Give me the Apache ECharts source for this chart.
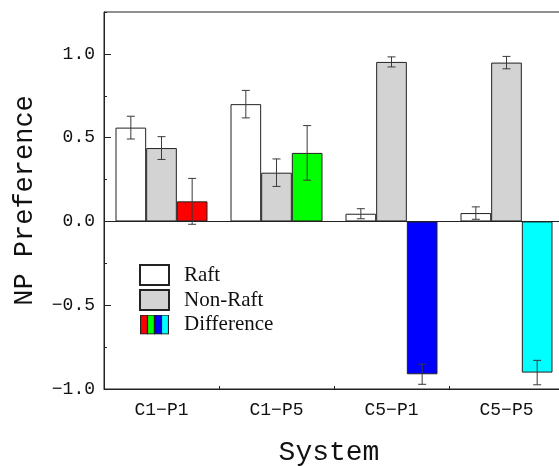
<!DOCTYPE html>
<html>
<head>
<meta charset="utf-8">
<script src="https://cdn.jsdelivr.net/npm/echarts@6/dist/echarts.min.js"></script>
<style>html,body{margin:0;padding:0;background:#fff}#c{width:559px;height:466px}</style>
</head>
<body>
<div id="c"></div>
<script>
// ---- data ----
const categories = ['C1\u2212P1', 'C1\u2212P5', 'C5\u2212P1', 'C5\u2212P5'];
const raftValues = [0.56, 0.70, 0.046, 0.05];
const raftErrors = [0.068, 0.082, 0.03, 0.037];
const nonRaftValues = [0.438, 0.291, 0.952, 0.948];
const nonRaftErrors = [0.068, 0.082, 0.03, 0.037];
const diffValues = [0.12, 0.409, -0.912, -0.902];
const diffErrors = [0.137, 0.163, 0.06, 0.073];
const seriesNames = ['Raft', 'Non-Raft', 'Difference'];
const yTickValues = [-1.0, -0.5, 0.0, 0.5, 1.0];

// ---- styles ----
const diffColors = ['#ff0000', '#00ff00', '#0000ff', '#00ffff'];
const axisColor = '#222';
const monoFont = 'Liberation Mono';

const diffIconSvg = "<svg xmlns='http://www.w3.org/2000/svg' width='29' height='20'>" +
  diffColors.map((c, i) => "<rect x='" + (0.5 + i * 7) + "' y='0.5' width='7' height='19' fill='" + c + "' stroke='#222' stroke-width='1.2'/>").join('') +
  "</svg>";
const diffIcon = 'image://data:image/svg+xml;charset=utf-8,' + encodeURIComponent(diffIconSvg);

function errData(vals, errs) {
  return vals.map((v, i) => [i, v - errs[i], v + errs[i]]);
}

function errSeries(vals, errs, k) {
  return {
    type: 'custom',
    xAxisIndex: 0, yAxisIndex: 0,
    z: 10,
    silent: true,
    data: errData(vals, errs),
    renderItem: function (params, api) {
      const band = api.size([1, 0])[0];
      const off = k * band * 0.8 / 3;
      const lo = api.coord([api.value(0), api.value(1)]);
      const hi = api.coord([api.value(0), api.value(2)]);
      const x = lo[0] + off;
      const hw = 4;
      const st = { stroke: '#3a3a3a', lineWidth: 1 };
      return {
        type: 'group',
        children: [
          { type: 'line', shape: { x1: x, y1: lo[1], x2: x, y2: hi[1] }, style: st },
          { type: 'line', shape: { x1: x - hw, y1: lo[1], x2: x + hw, y2: lo[1] }, style: st },
          { type: 'line', shape: { x1: x - hw, y1: hi[1], x2: x + hw, y2: hi[1] }, style: st }
        ]
      };
    }
  };
}

const chart = echarts.init(document.getElementById('c'), null, { renderer: 'canvas' });
chart.setOption({
  animation: false,
  backgroundColor: '#fff',
  grid: { left: 104, right: -5, top: 12, bottom: 77, outerBoundsMode: 'none', containLabel: false, show: true, borderColor: axisColor, borderWidth: 1, backgroundColor: 'transparent' },
  legend: {
    orient: 'vertical', left: 139, top: 264, padding: 0,
    itemWidth: 29, itemHeight: 20, itemGap: 3,
    textStyle: { fontFamily: 'Liberation Serif', fontSize: 21, color: '#111', lineHeight: 21, padding: [0, 0, 0, 10] },
    data: [
      { name: seriesNames[0], icon: 'rect' },
      { name: seriesNames[1], icon: 'rect' },
      { name: seriesNames[2], icon: diffIcon }
    ]
  },
  xAxis: [
    {
      type: 'category', data: categories, position: 'bottom',
      axisLine: { onZero: false, lineStyle: { color: axisColor, width: 1 } },
      axisTick: { alignWithLabel: true, inside: true, length: 6, lineStyle: { color: axisColor } },
      axisLabel: { fontFamily: monoFont, fontSize: 18, color: '#111', margin: 12 },
      name: 'System', nameLocation: 'middle', nameGap: 50,
      nameTextStyle: { fontFamily: monoFont, fontSize: 28, color: '#111', padding: [0, 10, 0, 0] },
      splitLine: { show: false }
    },
    {
      type: 'category', data: categories, position: 'bottom',
      axisLine: { show: false, onZero: false },
      axisTick: { show: true, inside: true, length: 3, lineStyle: { color: axisColor } },
      axisLabel: { show: false },
      splitLine: { show: false }
    }
  ],
  yAxis: [
    {
      type: 'value', min: -1, max: 1.25, interval: 0.5, position: 'left',
      axisLine: { show: true, lineStyle: { color: axisColor, width: 1 } },
      axisTick: { show: true, inside: true, length: 7, lineStyle: { color: axisColor } },
      axisLabel: {
        fontFamily: monoFont, fontSize: 18, color: '#111', margin: 9, showMaxLabel: false,
        formatter: v => (yTickValues.indexOf(v) >= 0 ? v.toFixed(1).replace('-', '\u2212') : '')
      },
      splitLine: { show: false },
      name: 'NP Preference', nameLocation: 'middle', nameGap: 66, nameRotate: 90,
      nameTextStyle: { fontFamily: monoFont, fontSize: 27, color: '#111' }
    },
    {
      type: 'value', min: -1, max: 1.25, interval: 0.25, position: 'left',
      axisLine: { show: false },
      axisTick: { show: true, inside: true, length: 3, lineStyle: { color: axisColor } },
      axisLabel: { show: false },
      splitLine: { show: false }
    }
  ],
  series: [
    {
      name: seriesNames[0], type: 'bar', data: raftValues,
      barCategoryGap: '20%', barGap: '0%',
      itemStyle: { color: '#ffffff', borderColor: '#222', borderWidth: 1 },
      markLine: {
        silent: true, symbol: 'none', label: { show: false },
        lineStyle: { color: axisColor, width: 1, type: 'solid' },
        data: [{ yAxis: 0 }]
      }
    },
    {
      name: seriesNames[1], type: 'bar', data: nonRaftValues,
      barCategoryGap: '20%', barGap: '0%',
      itemStyle: { color: '#d3d3d3', borderColor: '#222', borderWidth: 1 }
    },
    {
      name: seriesNames[2], type: 'bar',
      data: diffValues.map((v, i) => ({ value: v, itemStyle: { color: diffColors[i] } })),
      barCategoryGap: '20%', barGap: '0%',
      itemStyle: { color: diffColors[0], borderColor: '#222', borderWidth: 1 }
    },
    errSeries(raftValues, raftErrors, -1),
    errSeries(nonRaftValues, nonRaftErrors, 0),
    errSeries(diffValues, diffErrors, 1)
  ]
});
</script>
</body>
</html>
